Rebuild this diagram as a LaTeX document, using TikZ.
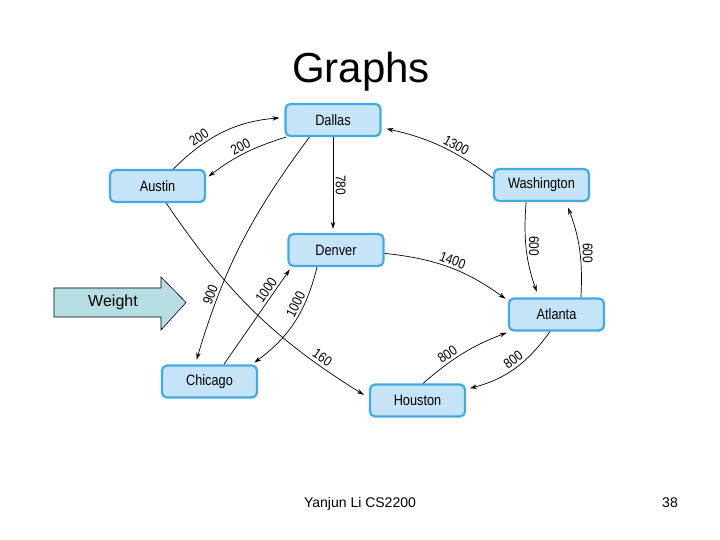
\documentclass[tikz,border=0pt]{standalone}
\usepackage{fontspec}
\setmainfont{Liberation Sans}
\newfontfamily\narrowfont[FakeStretch=0.85]{Liberation Sans}
\usepackage{tikz}
\usetikzlibrary{arrows.meta}
\definecolor{cityfill}{RGB}{198,228,247}
\definecolor{cityline}{RGB}{66,171,226}
\definecolor{weightfill}{RGB}{183,222,226}

\begin{document}
\begin{tikzpicture}[x=1pt, y=1pt,
  city/.style={draw=cityline, fill=cityfill, line width=2.2pt, rounded corners=5pt,
    minimum width=95pt, minimum height=32pt, inner sep=0pt,
    font=\narrowfont\fontsize{15}{15}\selectfont},
  road/.style={-{Stealth[length=7pt,width=4.5pt]}, line width=0.7pt},
  cost/.style={font=\narrowfont\fontsize{14}{14}\selectfont, inner sep=2.5pt}]
  \useasboundingbox (0,0) rectangle (720,540);

  \node[anchor=base, font=\fontsize{42}{42}\selectfont] (title) at (361,457) {Graphs};

  \foreach \name/\cityname/\x/\y in {dallas/Dallas/333/420, austin/Austin/157.5/354,
      washington/Washington/541.5/355, denver/Denver/336/290, atlanta/Atlanta/556.5/225.5,
      chicago/Chicago/209.5/158.5, houston/Houston/417.5/139.5} {
    \node[city] (\name) at (\x,\y) {\cityname};
  }

  \def\drawRoad#1#2#3#4#5{
    \draw[road,#3] (#1) to node[cost,#4]{#5} (#2);
  }

  \drawRoad{austin.47}{dallas.177}{bend left=20, shorten >=5pt}{pos=0.3, sloped, above}{200}
  \drawRoad{dallas.200}{austin.9}{bend right=10, shorten >=3pt}{pos=0.5, sloped, above}{200}
  \drawRoad{dallas.south}{dallas.south |- denver.north}{shorten >=4pt}{midway, rotate=-90, above}{780}
  \drawRoad{dallas.216}{chicago.130}{bend right=10, shorten >=5pt}{pos=0.74, sloped, above}{900}
  \drawRoad{chicago.50}{denver.201}{shorten >=3pt}{pos=0.72, sloped, above}{1000}
  \drawRoad{denver.222}{chicago.22}{bend left=20, shorten >=3pt}{pos=0.35, sloped, above}{1000}
  \drawRoad{austin.-63}{houston.177}{bend right=12, shorten >=6pt}{pos=0.8, sloped, above}{160}
  \drawRoad{washington.172}{dallas.-9}{bend right=12, shorten >=5pt}{pos=0.38, sloped, above}{1300}
  \drawRoad{denver.-4}{atlanta.164}{bend left=15, shorten >=3pt}{pos=0.5, sloped, above}{1400}
  \drawRoad{washington.228}{atlanta.136}{bend right=12, shorten >=6pt}{pos=0.45, rotate=-90, above}{600}
  \drawRoad{atlanta.35}{washington.-35}{bend right=12, shorten >=6pt}{pos=0.45, rotate=-90, above}{600}
  \drawRoad{houston.72}{atlanta.200}{bend left=10, shorten >=3pt}{pos=0.35, sloped, above}{800}
  \drawRoad{atlanta.249}{houston.13}{bend left=20, shorten >=4pt}{pos=0.45, sloped, above}{800}

  % weight pointer
  \draw[fill=weightfill, line width=0.6pt] (54,252) -- (161,252) -- (161,263) -- (186,237.5)
    -- (161,210) -- (161,223) -- (54,223) -- cycle;
  \node[font=\fontsize{16}{16}\selectfont] (weight) at (113,237.5) {Weight};

  \node[anchor=base, font=\fontsize{14}{14}\selectfont] (footer) at (360,32) {Yanjun Li CS2200};
  \node[anchor=base, font=\fontsize{14}{14}\selectfont] (page) at (670,32) {38};
\end{tikzpicture}
\end{document}
